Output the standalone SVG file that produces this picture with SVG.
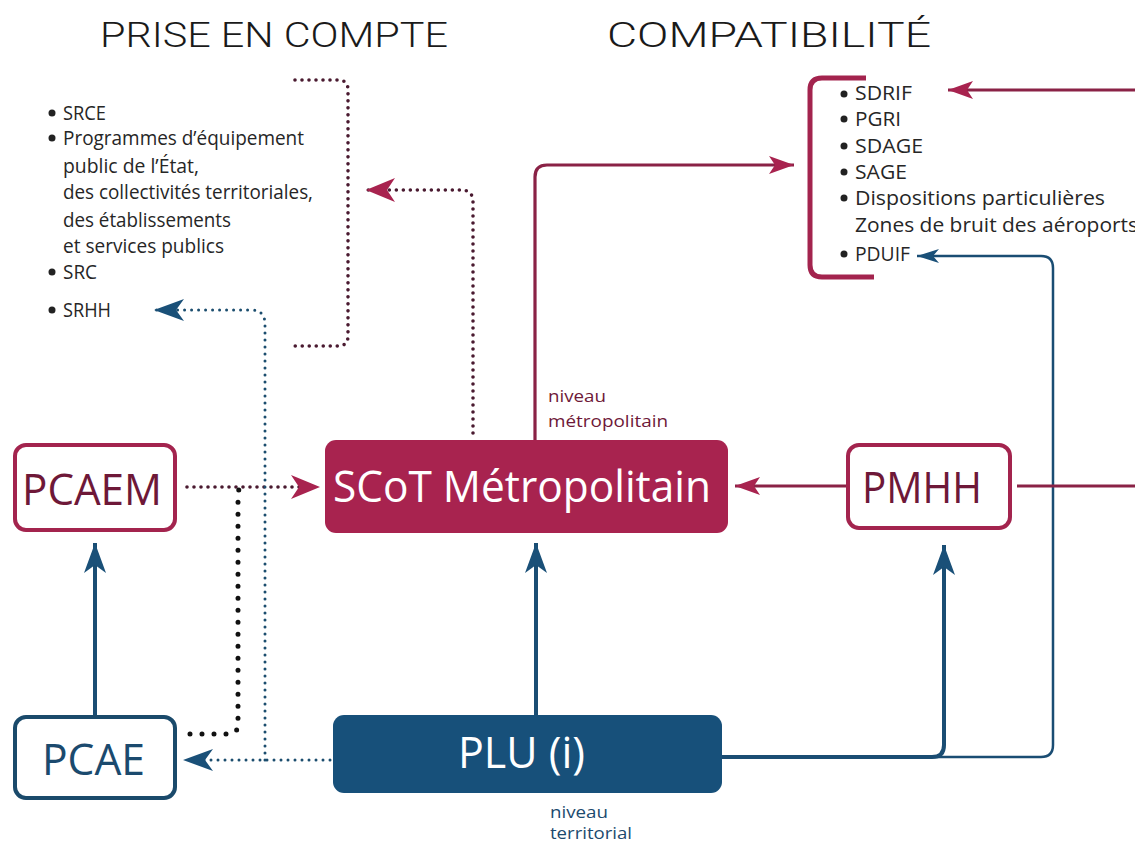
<svg xmlns="http://www.w3.org/2000/svg" width="1135" height="844" viewBox="0 0 1135 844">
<style>
.title{font-family:Roboto,"Liberation Sans",Arial,sans-serif;font-weight:300;font-size:35px;fill:#1a1a1a}
.lst{font-family:"Open Sans","Noto Sans",sans-serif;font-size:19.5px;fill:#262626}
.big{font-family:"Open Sans","Noto Sans",sans-serif;font-size:44px}
.lbl{font-family:"Open Sans","Noto Sans",sans-serif;font-size:17px}
.dotp{fill:none;stroke:#4a1a30;stroke-width:3.6;stroke-dasharray:0 7;stroke-linecap:round}
.dotb{fill:none;stroke:#1b4d6e;stroke-width:3;stroke-dasharray:0 7;stroke-linecap:round}
.dotk{fill:none;stroke:#111;stroke-width:5;stroke-dasharray:0 12;stroke-linecap:round}
.solm{fill:none;stroke:#8a2246;stroke-width:3.2}
.solb{fill:none;stroke:#1a4d73;stroke-width:4}
.solb2{fill:none;stroke:#1a4d73;stroke-width:2.5}
.bul{fill:#222}
</style>
<defs>
<marker id="am" markerUnits="userSpaceOnUse" viewBox="-32 -16 34 32" refX="0" refY="0" markerWidth="34" markerHeight="32" orient="auto">
<path d="M0,0 L-29,-12 L-21,0 L-29,12 Z" fill="#a8234f"/>
</marker>
<marker id="ams" markerUnits="userSpaceOnUse" viewBox="-32 -16 34 32" refX="0" refY="0" markerWidth="34" markerHeight="32" orient="auto">
<path d="M0,0 L-25,-9 L-19,0 L-25,9 Z" fill="#a8234f"/>
</marker>
<marker id="ab" markerUnits="userSpaceOnUse" viewBox="-32 -16 34 32" refX="0" refY="0" markerWidth="34" markerHeight="32" orient="auto">
<path d="M0,0 L-30,-11 L-22,0 L-30,11 Z" fill="#1a5078"/>
</marker>
<marker id="abs" markerUnits="userSpaceOnUse" viewBox="-32 -16 34 32" refX="0" refY="0" markerWidth="34" markerHeight="32" orient="auto">
<path d="M0,0 L-22,-7 L-16,0 L-22,7 Z" fill="#1a5078"/>
</marker>
</defs>
<rect width="1135" height="844" fill="#fff"/>

<g id="titles">
<text class="title" x="100" y="47" textLength="348" lengthAdjust="spacingAndGlyphs">PRISE EN COMPTE</text>
<text class="title" x="607" y="47" textLength="324" lengthAdjust="spacingAndGlyphs">COMPATIBILITÉ</text>
</g>

<g id="prise-en-compte-list">
<circle class="bul" cx="52" cy="113" r="3.5"/>
<text class="lst" x="63" y="120" textLength="43" lengthAdjust="spacingAndGlyphs">SRCE</text>
<circle class="bul" cx="52" cy="138" r="3.5"/>
<text class="lst" x="63" y="145" textLength="241" lengthAdjust="spacingAndGlyphs">Programmes d’équipement</text>
<text class="lst" x="63" y="173" textLength="136" lengthAdjust="spacingAndGlyphs">public de l’État,</text>
<text class="lst" x="63" y="199" textLength="250" lengthAdjust="spacingAndGlyphs">des collectivités territoriales,</text>
<text class="lst" x="63" y="227" textLength="168" lengthAdjust="spacingAndGlyphs">des établissements</text>
<text class="lst" x="63" y="253" textLength="161" lengthAdjust="spacingAndGlyphs">et services publics</text>
<circle class="bul" cx="52" cy="272" r="3.5"/>
<text class="lst" x="63" y="279" textLength="34" lengthAdjust="spacingAndGlyphs">SRC</text>
<circle class="bul" cx="52" cy="310" r="3.5"/>
<text class="lst" x="63" y="317" textLength="48" lengthAdjust="spacingAndGlyphs">SRHH</text>
</g>

<g id="compatibilite-list">
<path d="M866,78 H822 Q810,78 810,90 V265 Q810,277 822,277 H874" fill="none" stroke="#a3244e" stroke-width="5"/>
<circle class="bul" cx="844" cy="94" r="3.5"/>
<text class="lst" x="855" y="100" textLength="57" lengthAdjust="spacingAndGlyphs">SDRIF</text>
<circle class="bul" cx="844" cy="119" r="3.5"/>
<text class="lst" x="855" y="126" textLength="46" lengthAdjust="spacingAndGlyphs">PGRI</text>
<circle class="bul" cx="844" cy="146" r="3.5"/>
<text class="lst" x="855" y="153" textLength="68" lengthAdjust="spacingAndGlyphs">SDAGE</text>
<circle class="bul" cx="844" cy="172" r="3.5"/>
<text class="lst" x="855" y="179" textLength="52" lengthAdjust="spacingAndGlyphs">SAGE</text>
<circle class="bul" cx="844" cy="198" r="3.5"/>
<text class="lst" x="855" y="205" textLength="250" lengthAdjust="spacingAndGlyphs">Dispositions particulières</text>
<text class="lst" x="855" y="232" textLength="283" lengthAdjust="spacingAndGlyphs">Zones de bruit des aéroports</text>
<circle class="bul" cx="844" cy="254" r="3.5"/>
<text class="lst" x="855" y="261" textLength="55" lengthAdjust="spacingAndGlyphs">PDUIF</text>
</g>

<g id="connectors">
<path class="dotp" d="M295,80 H338 Q348,80 348,90 V336 Q348,346 338,346 H295"/>
<path class="dotp" d="M473,433 V202 Q473,190 461,190 H366" marker-end="url(#am)"/>
<path class="dotp" d="M187,487 H320" marker-end="url(#am)"/>
<path class="dotk" d="M190,734 H228 Q238,734 238,724 V494 Q238,487 244,487"/>
<path class="dotb" d="M330,760 H183" marker-end="url(#ab)"/>
<path class="dotb" d="M265,760 V324 Q265,310 251,310 H154" marker-end="url(#ab)"/>
<path class="solb" d="M95,716 V543" marker-end="url(#ab)"/>
<path class="solb" d="M536,715 V543" marker-end="url(#ab)"/>
<path class="solb2" d="M930,757 H1041 Q1053,757 1053,745 V268 Q1053,256 1041,256 H917" marker-end="url(#abs)"/>
<path class="solb" d="M722,757 H932 Q944,757 944,745 V545" marker-end="url(#ab)"/>
<path class="solm" d="M535,440 V177 Q535,165 547,165 H794" marker-end="url(#ams)"/>
<path class="solm" d="M848,486 H735" marker-end="url(#ams)"/>
<path class="solm" d="M1017,486 H1135"/>
<path class="solm" d="M1135,90 H948" marker-end="url(#ams)"/>
</g>

<g id="node-pcaem">
<rect x="15" y="445" width="160" height="85" rx="11" fill="#fff" stroke="#a3244e" stroke-width="4"/>
<text class="big" x="22" y="505" fill="#6e1838" textLength="140" lengthAdjust="spacingAndGlyphs">PCAEM</text>
</g>

<g id="node-scot">
<rect x="325" y="440" width="403" height="93" rx="11" fill="#a8234f"/>
<text class="big" x="333" y="502" fill="#fff" font-size="46" textLength="378" lengthAdjust="spacingAndGlyphs">SCoT Métropolitain</text>
</g>

<g id="node-pmhh">
<rect x="848" y="445" width="162" height="83" rx="11" fill="#fff" stroke="#a3244e" stroke-width="4"/>
<text class="big" x="862" y="503" fill="#6e1838" textLength="120" lengthAdjust="spacingAndGlyphs">PMHH</text>
</g>

<g id="node-pcae">
<rect x="15" y="717" width="160" height="81" rx="11" fill="#fff" stroke="#1a4a6b" stroke-width="4"/>
<text class="big" x="42" y="775" fill="#1b4a6e" textLength="103" lengthAdjust="spacingAndGlyphs">PCAE</text>
</g>

<g id="node-plu">
<rect x="333" y="715" width="389" height="78" rx="11" fill="#17507a"/>
<text class="big" x="458" y="768" fill="#fff" font-size="46" textLength="127" lengthAdjust="spacingAndGlyphs">PLU (i)</text>
</g>

<g id="labels">
<text class="lbl" x="548" y="402" fill="#6e1838" textLength="58" lengthAdjust="spacingAndGlyphs">niveau</text>
<text class="lbl" x="548" y="427" fill="#6e1838" textLength="120" lengthAdjust="spacingAndGlyphs">métropolitain</text>
<text class="lbl" x="550" y="818" fill="#1b4a6e" textLength="58" lengthAdjust="spacingAndGlyphs">niveau</text>
<text class="lbl" x="550" y="839" fill="#1b4a6e" textLength="82" lengthAdjust="spacingAndGlyphs">territorial</text>
</g>
</svg>
